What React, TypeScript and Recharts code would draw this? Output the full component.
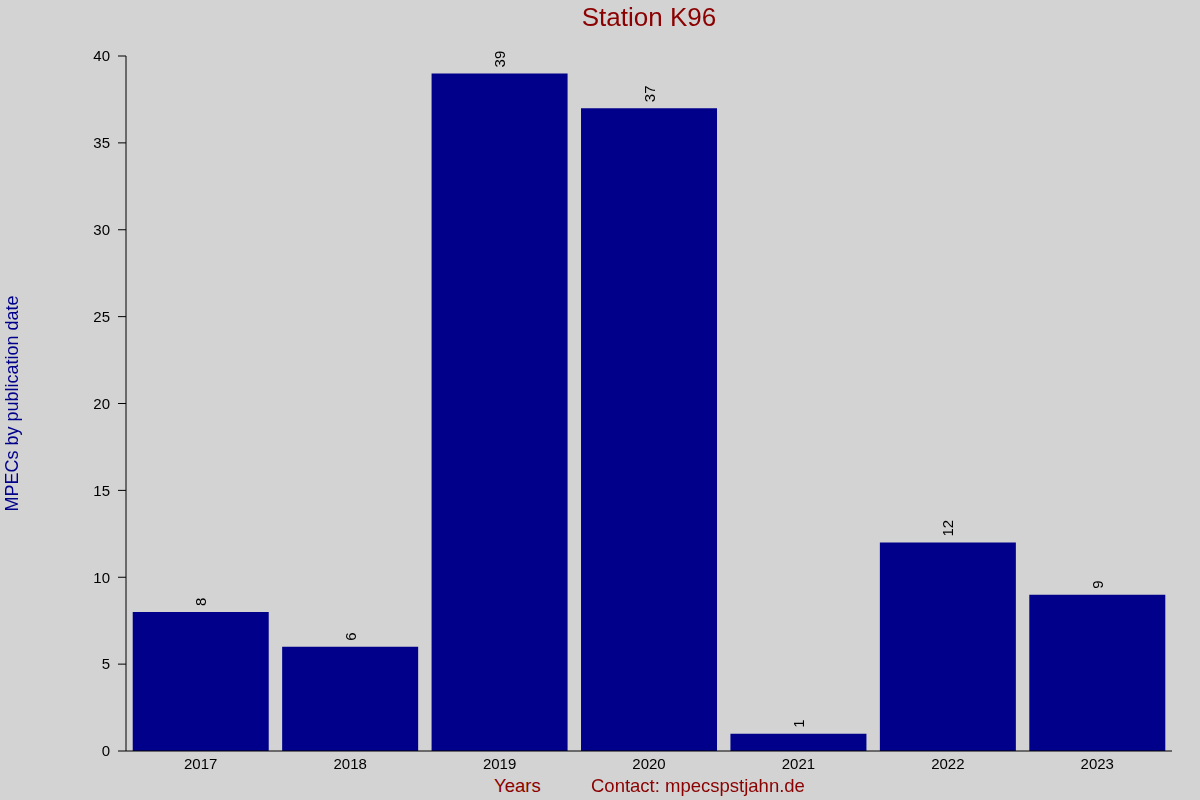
import React from "react";
import { BarChart, Bar, XAxis, YAxis, LabelList } from "recharts";

const years = ["2017", "2018", "2019", "2020", "2021", "2022", "2023"];
const counts = [8, 6, 39, 37, 1, 12, 9];
const yTicks = [0, 5, 10, 15, 20, 25, 30, 35, 40];

const data = years.map((y, i) => ({ year: y, count: counts[i] }));

const FONT = "'Liberation Sans', Arial, sans-serif";

const BarLabel = (props: any) => {
  const { x, y, width, value } = props;
  const cx = Number(x) + Number(width) / 2;
  const cy = Number(y) - 6;
  return (
    <text
      x={cx}
      y={cy}
      transform={`rotate(-90, ${cx}, ${cy})`}
      textAnchor="start"
      dominantBaseline="central"
      fontSize={15}
      fontFamily={FONT}
      fill="#000"
    >
      {value}
    </text>
  );
};

const TopDot = (props: any) => {
  const { x, y } = props;
  return <rect x={Math.round(Number(x)) - 0.5} y={Math.round(Number(y)) - 1} width={1.2} height={1.2} fill="#000" />;
};

export default function App() {
  return (
    <div
      style={{
        position: "fixed",
        left: 0,
        top: 0,
        width: 1200,
        height: 800,
        background: "#d3d3d3",
        fontFamily: FONT,
      }}
    >
      <div
        style={{
          position: "absolute",
          left: 0,
          width: 1298,
          top: 2,
          textAlign: "center",
          fontSize: 26,
          color: "#8b0000",
        }}
      >
        Station K96
      </div>
      <div
        style={{
          position: "absolute",
          left: 494,
          top: 775,
          fontSize: 18.5,
          color: "#8b0000",
        }}
      >
        Years
      </div>
      <div
        style={{
          position: "absolute",
          left: 591,
          top: 775,
          fontSize: 18.5,
          color: "#8b0000",
        }}
      >
        Contact: mpecspstjahn.de
      </div>
      <BarChart
        width={1200}
        height={800}
        data={data}
        margin={{ top: 56, right: 28, left: 0, bottom: 0 }}
        barCategoryGap="4.5%"
      >
        <XAxis
          dataKey="year"
          height={49}
          tickLine={false}
          tickSize={0}
          tickMargin={7}
          axisLine={{ stroke: "#000" }}
          tick={{ fontSize: 15, fill: "#000", fontFamily: FONT }}
          interval={0}
        />
        <XAxis
          xAxisId="top"
          dataKey="year"
          orientation="top"
          height={0}
          axisLine={false}
          tickLine={false}
          tickSize={0}
          tickMargin={0}
          tick={TopDot}
          interval={0}
        />
        <YAxis
          width={126}
          domain={[0, 40]}
          ticks={yTicks}
          interval={0}
          tickSize={8}
          tickMargin={8}
          axisLine={{ stroke: "#000" }}
          tickLine={{ stroke: "#000" }}
          tick={{ fontSize: 15, fill: "#000", fontFamily: FONT }}
          label={{
            value: "MPECs by publication date",
            angle: -90,
            position: "insideLeft",
            dx: 7,
            fill: "#00008b",
            fontSize: 18,
            fontFamily: FONT,
            style: { textAnchor: "middle" },
          }}
        />
        <Bar dataKey="count" fill="#00008b" isAnimationActive={false}>
          <LabelList dataKey="count" content={BarLabel} />
        </Bar>
      </BarChart>
    </div>
  );
}
